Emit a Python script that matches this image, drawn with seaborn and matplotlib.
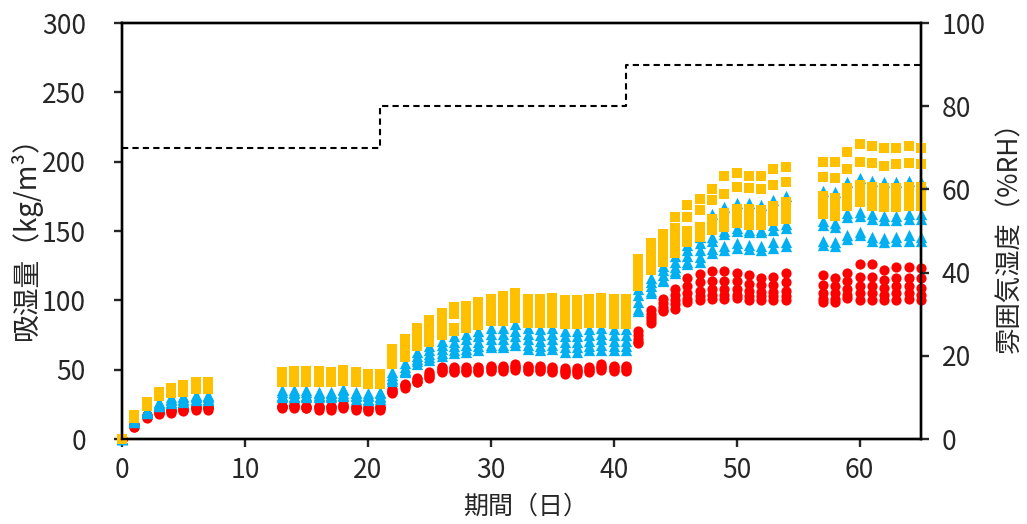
import matplotlib
matplotlib.use("Agg")
import matplotlib.pyplot as plt
import pandas as pd
import seaborn as sns

# Measurement days
days = [0, 1, 2, 3, 4, 5, 6, 7,
        13, 14, 15, 16, 17, 18, 19, 20, 21,
        22, 23, 24, 25, 26, 27, 28, 29, 30, 31, 32, 33, 34, 35, 36, 37, 38, 39, 40, 41,
        42, 43, 44, 45, 46, 47, 48, 49, 50, 51, 52, 53, 54,
        57, 58, 59, 60, 61, 62, 63, 64, 65]

# Ambient relative humidity schedule (%RH)
rh_days = [0, 21, 41, 65]
rh_levels = [70, 80, 90, 90]

# Moisture uptake (kg/m3), five specimens per material, one row per day
uptake_a = [
    (0, 0, 0, 0, 0), (17, 16, 16, 15, 15), (27, 26, 25, 25, 24), (34, 33, 32, 31, 31),
    (37, 36, 35, 34, 33), (39, 38, 36, 35, 34), (41, 40, 38, 37, 36), (41, 40, 38, 37, 36),
    (48, 46, 44, 42, 41), (49, 47, 45, 43, 41), (49, 47, 45, 43, 41), (49, 47, 45, 43, 41),
    (48, 46, 44, 42, 41), (50, 48, 46, 44, 42), (48, 46, 44, 42, 41), (47, 45, 43, 41, 40),
    (47, 45, 43, 42, 40),
    (65, 62, 59, 56, 54), (72, 69, 65, 62, 59), (80, 77, 73, 70, 67), (86, 82, 78, 74, 70),
    (91, 87, 82, 78, 75), (95, 90, 80, 79, 78), (96, 91, 86, 82, 80), (99, 94, 89, 85, 82),
    (101, 96, 91, 87, 85), (103, 97, 92, 88, 85), (105, 99, 94, 90, 87), (101, 96, 91, 87, 84),
    (101, 96, 91, 87, 84), (102, 97, 92, 87, 84), (100, 95, 90, 86, 83), (100, 95, 90, 86, 83),
    (101, 96, 91, 86, 84), (102, 97, 92, 87, 84), (101, 96, 91, 86, 83), (101, 96, 91, 86, 83),
    (130, 124, 118, 113, 110), (141, 135, 128, 124, 122), (148, 142, 136, 131, 128),
    (160, 152, 145, 139, 134), (169, 160, 150, 145, 142), (173, 165, 153, 149, 146),
    (180, 172, 159, 155, 151), (190, 177, 163, 158, 153), (192, 182, 166, 161, 156),
    (190, 181, 166, 160, 154), (190, 180, 165, 159, 154), (195, 183, 168, 162, 157),
    (196, 185, 171, 165, 159),
    (200, 189, 175, 168, 162), (200, 188, 174, 168, 161), (207, 195, 181, 174, 168),
    (213, 200, 183, 177, 171), (211, 199, 182, 175, 168), (210, 197, 181, 174, 167),
    (210, 198, 181, 174, 167), (211, 199, 182, 175, 168), (210, 198, 182, 175, 168),
]

uptake_b = [
    (0, 0, 0, 0, 0), (14, 13, 13, 12, 12), (21, 20, 20, 19, 19), (27, 26, 25, 24, 24),
    (30, 29, 28, 27, 26), (31, 30, 29, 28, 27), (32, 31, 30, 29, 28), (32, 31, 30, 29, 28),
    (35, 34, 32, 31, 30), (35, 34, 33, 31, 30), (35, 34, 32, 31, 30), (34, 33, 32, 31, 30),
    (34, 33, 32, 31, 30), (36, 35, 33, 32, 31), (34, 33, 32, 31, 29), (33, 32, 31, 29, 28),
    (34, 33, 31, 30, 29),
    (48, 46, 44, 43, 42), (55, 52, 50, 49, 48), (63, 60, 58, 56, 54), (67, 64, 61, 59, 57),
    (71, 68, 65, 62, 60), (74, 70, 67, 64, 62), (76, 72, 68, 65, 63), (78, 74, 70, 67, 64),
    (80, 76, 72, 68, 66), (80, 76, 72, 68, 66), (83, 78, 74, 70, 68), (80, 76, 72, 68, 65),
    (79, 75, 71, 67, 64), (80, 76, 72, 68, 65), (78, 74, 70, 66, 63), (78, 74, 70, 66, 63),
    (79, 75, 71, 67, 64), (80, 76, 72, 68, 64), (79, 75, 71, 67, 64), (79, 75, 71, 67, 64),
    (108, 104, 99, 94, 92), (116, 113, 110, 107, 105), (125, 122, 118, 115, 114),
    (132, 128, 124, 121, 120), (140, 136, 132, 128, 126), (146, 141, 136, 131, 128),
    (162, 146, 143, 137, 134), (167, 150, 148, 139, 136), (170, 152, 150, 141, 138),
    (170, 151, 149, 140, 137), (169, 151, 149, 139, 136), (172, 154, 151, 142, 138),
    (175, 155, 152, 142, 139),
    (179, 157, 154, 143, 140), (178, 156, 153, 142, 139), (185, 163, 160, 147, 144),
    (188, 164, 161, 149, 147), (186, 162, 159, 146, 143), (185, 161, 158, 145, 142),
    (185, 161, 158, 146, 143), (186, 162, 159, 147, 143), (185, 162, 159, 146, 143),
]

uptake_c = [
    (0, 0, 0, 0, 0), (11, 10, 10, 9, 9), (17, 17, 16, 16, 15), (20, 20, 19, 19, 18),
    (21, 21, 20, 20, 19), (22, 22, 21, 21, 20), (23, 23, 22, 22, 21), (23, 23, 22, 22, 21),
    (24, 24, 23, 23, 22), (25, 24, 24, 23, 22), (24, 23, 23, 22, 22), (24, 23, 23, 22, 21),
    (24, 23, 23, 22, 21), (25, 24, 24, 23, 22), (24, 23, 22, 22, 21), (23, 22, 22, 21, 20),
    (24, 23, 22, 22, 21),
    (36, 35, 34, 34, 33), (40, 39, 39, 38, 37), (44, 43, 42, 41, 41), (48, 47, 46, 45, 44),
    (52, 51, 50, 49, 48), (52, 51, 50, 49, 48), (52, 51, 50, 49, 48), (52, 51, 50, 49, 48),
    (53, 52, 51, 50, 49), (53, 52, 51, 50, 49), (54, 53, 52, 51, 50), (53, 52, 51, 50, 49),
    (53, 52, 51, 50, 49), (52, 51, 50, 49, 48), (51, 50, 49, 48, 47), (51, 50, 49, 48, 47),
    (52, 51, 50, 49, 48), (54, 53, 52, 51, 50), (53, 52, 51, 50, 49), (53, 52, 51, 50, 49),
    (78, 75, 72, 70, 69), (93, 90, 88, 86, 84), (101, 98, 95, 93, 92),
    (108, 104, 100, 97, 94), (116, 110, 105, 101, 99), (119, 113, 107, 103, 100),
    (121, 114, 108, 104, 101), (121, 114, 108, 104, 101), (120, 114, 108, 104, 102),
    (118, 112, 107, 103, 100), (116, 111, 106, 103, 100), (117, 111, 106, 103, 100),
    (120, 113, 107, 103, 100),
    (118, 111, 105, 101, 99), (116, 110, 105, 101, 99), (120, 114, 108, 104, 102),
    (126, 117, 110, 105, 100), (126, 117, 110, 105, 100), (122, 115, 109, 104, 100),
    (124, 116, 110, 105, 100), (124, 116, 110, 105, 101), (123, 116, 109, 104, 100),
]

sns.set_style("ticks")
plt.rcParams["font.family"] = ["Noto Sans CJK JP", "DejaVu Sans"]
plt.rcParams["axes.unicode_minus"] = False


def to_long(table, group):
    rows = []
    for d, vals in zip(days, table):
        for k, v in enumerate(vals):
            rows.append({"day": d, "value": v, "group": group, "specimen": k + 1})
    return pd.DataFrame(rows)


df_a = to_long(uptake_a, "A")
df_b = to_long(uptake_b, "B")
df_c = to_long(uptake_c, "C")

fig = plt.figure(figsize=(10.27, 5.24), dpi=100)
ax = fig.add_axes([122 / 1027, 1 - 439 / 524, 799 / 1027, 416 / 524])

# red circles underneath, blue triangles, orange squares on top
sns.scatterplot(data=df_c, x="day", y="value", marker="o", color="#FF0000",
                s=54, linewidth=0, legend=False, ax=ax, clip_on=False, zorder=3)
sns.scatterplot(data=df_b, x="day", y="value", marker="^", color="#00B0F0",
                s=66, linewidth=0, legend=False, ax=ax, clip_on=False, zorder=4)
sns.scatterplot(data=df_a, x="day", y="value", marker="s", color="#FFC000",
                s=58, linewidth=0, legend=False, ax=ax, clip_on=False, zorder=5)

ax.set_xlim(0, 65)
ax.set_ylim(0, 300)
ax.set_xticks(range(0, 61, 10))
ax.set_yticks(range(0, 301, 50))

ax2 = ax.twinx()
sns.lineplot(x=rh_days, y=rh_levels, ax=ax2, drawstyle="steps-post",
             color="black", linewidth=1.5, linestyle=(0, (3, 2)))
ax2.set_ylim(0, 100)
ax2.set_yticks(range(0, 101, 20))

spine_w = 1.7
for a in (ax, ax2):
    for side in ("left", "right", "top", "bottom"):
        a.spines[side].set_visible(True)
        a.spines[side].set_linewidth(spine_w)
        a.spines[side].set_color("black")

ax.tick_params(axis="y", direction="out", length=6, width=spine_w,
               labelsize=19, pad=20, right=False)
ax.tick_params(axis="x", direction="out", length=6, width=spine_w,
               labelsize=19, pad=7, top=False)
ax2.tick_params(axis="y", direction="out", length=6, width=spine_w,
                labelsize=19, pad=9)

ax.set_xlabel("期間（日）", fontsize=18)
ax.set_ylabel("吸湿量（kg/m³）", fontsize=20)
ax2.set_ylabel("雰囲気湿度（%RH）", fontsize=19)
ax.xaxis.set_label_coords(0.505, -0.132)
ax.yaxis.set_label_coords(-0.1, 0.5)
ax2.yaxis.set_label_coords(1.094, 0.5)

fig.savefig("out.png", dpi=100)
